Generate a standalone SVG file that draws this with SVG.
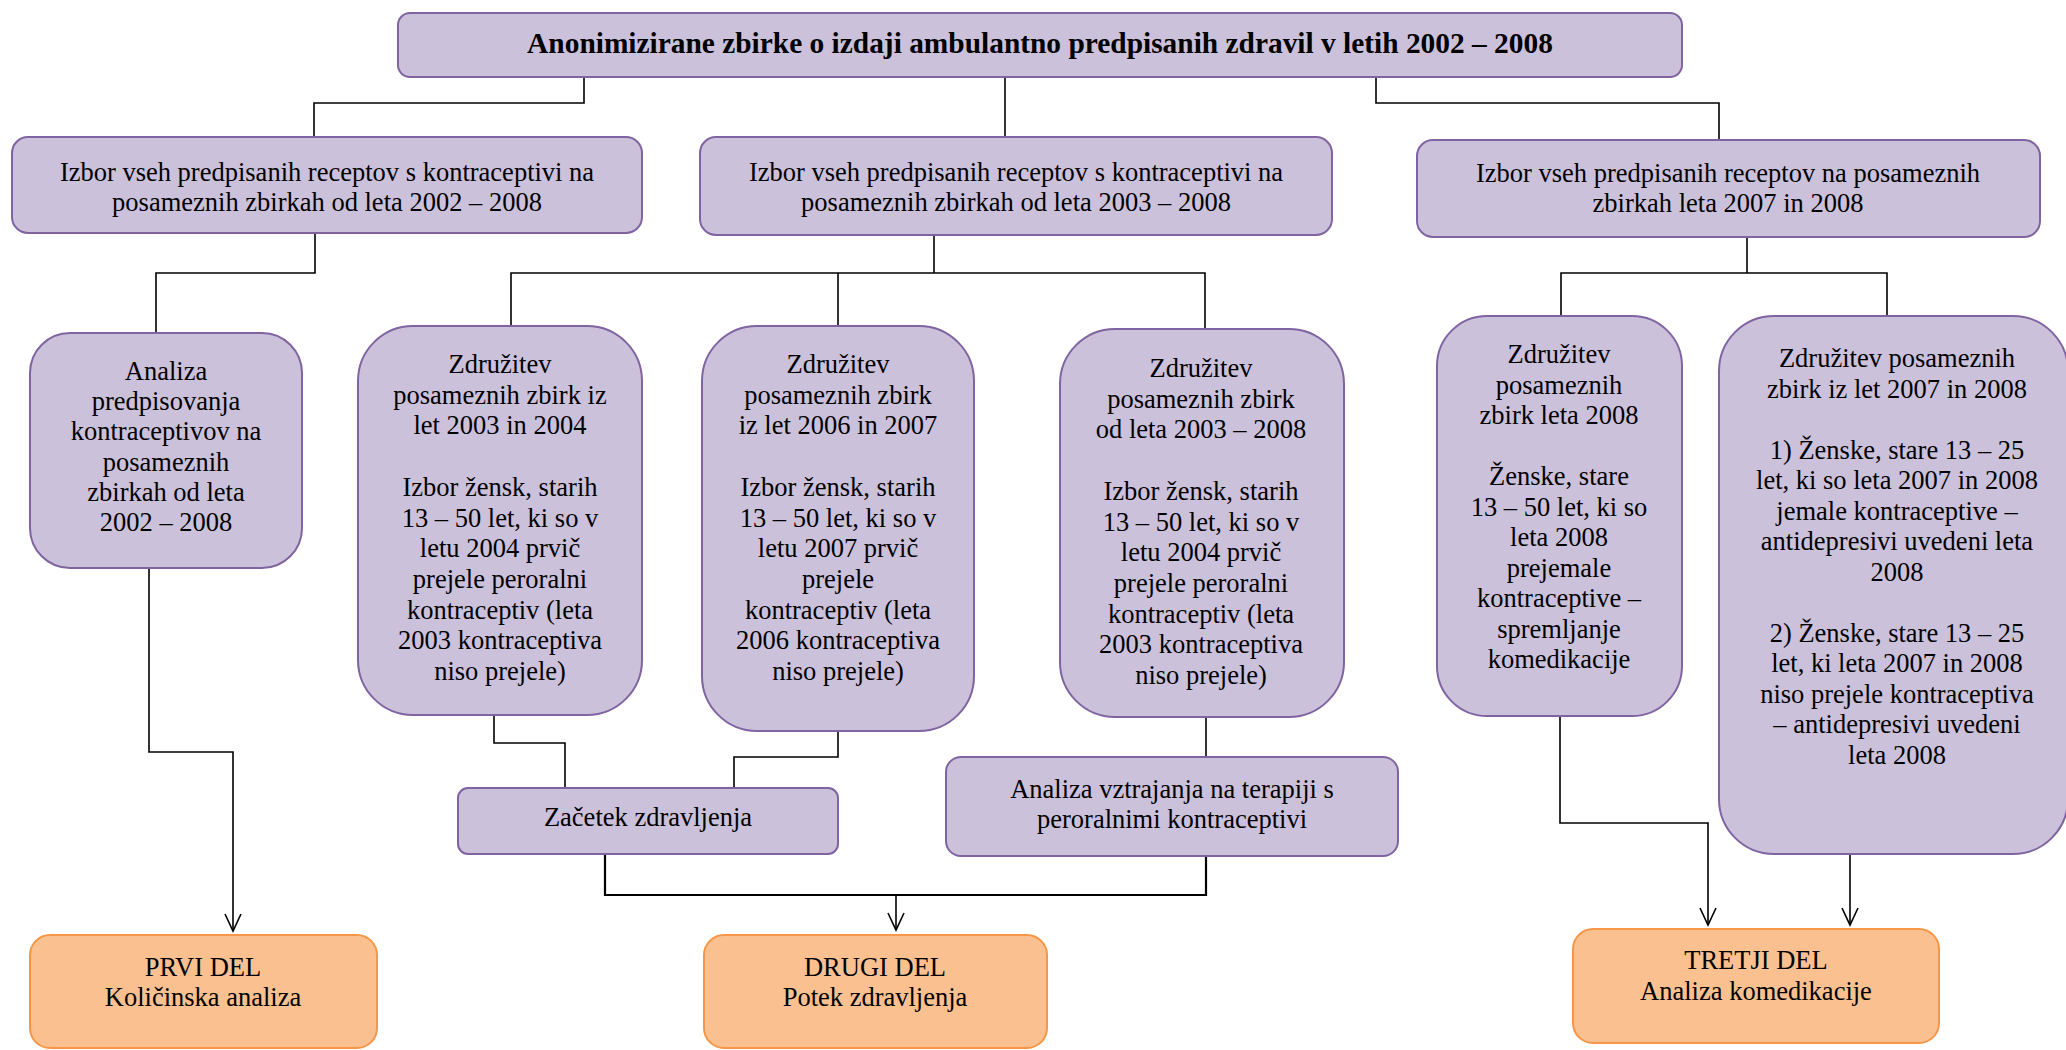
<svg xmlns="http://www.w3.org/2000/svg" width="2066" height="1050" viewBox="0 0 2066 1050">
<style>
.p{fill:#CCC1DA;stroke:#8064A2;stroke-width:2}
.o{fill:#FAC090;stroke:#F79646;stroke-width:2}
.t{font-family:"Liberation Serif","Times New Roman",serif;font-size:26.5px;fill:#000;text-anchor:middle}
.b{font-weight:bold;font-size:29.4px}
.c{fill:none;stroke:#000;stroke-width:1.6}
.th{stroke-width:2.2}
</style>
<defs>
<marker id="ar" markerUnits="userSpaceOnUse" markerWidth="22" markerHeight="22" viewBox="-19 -11 22 22" refX="0" refY="0" orient="auto">
<path d="M-17,-8 L0,0 L-17,8" fill="none" stroke="#000" stroke-width="1.6"/>
</marker>
</defs>
<rect width="2066" height="1050" fill="#fff"/>
<g id="connectors">
<path class="c" d="M584,77 V103 H314 V137"/>
<path class="c" d="M1005,77 V137"/>
<path class="c" d="M1376,77 V103 H1719 V140"/>
<path class="c" d="M315,233 V273 H156 V333"/>
<path class="c" d="M934,235 V273"/>
<path class="c" d="M511,325 V273 H1205 V329"/>
<path class="c" d="M838,273 V325"/>
<path class="c" d="M1747,237 V273"/>
<path class="c" d="M1561,316 V273 H1887 V316"/>
<path class="c" d="M149,568 V752 H233 V931" marker-end="url(#ar)"/>
<path class="c" d="M494,715 V743 H565 V788"/>
<path class="c" d="M838,731 V757 H734 V788"/>
<path class="c" d="M1206,717 V757"/>
<path class="c th" d="M605,854 V895 H1206 V856"/>
<path class="c" d="M896,895 V930" marker-end="url(#ar)"/>
<path class="c" d="M1560,716 V823 H1708 V925" marker-end="url(#ar)"/>
<path class="c" d="M1850,854 V925" marker-end="url(#ar)"/>
</g>
<g id="n_top">
<rect class="p" x="398" y="13" width="1284" height="64" rx="12"/>
<text class="t b" x="1040" y="53">Anonimizirane zbirke o izdaji ambulantno predpisanih zdravil v letih 2002 – 2008</text>
</g>
<g id="n_a">
<rect class="p" x="12" y="137" width="630" height="96" rx="16"/>
<text class="t" x="327" y="181"><tspan x="327">Izbor vseh predpisanih receptov s kontraceptivi na</tspan><tspan x="327" dy="30">posameznih zbirkah od leta 2002 – 2008</tspan></text>
</g>
<g id="n_b">
<rect class="p" x="700" y="137" width="632" height="98" rx="16"/>
<text class="t" x="1016" y="181"><tspan x="1016">Izbor vseh predpisanih receptov s kontraceptivi na</tspan><tspan x="1016" dy="30">posameznih zbirkah od leta 2003 – 2008</tspan></text>
</g>
<g id="n_c">
<rect class="p" x="1417" y="140" width="623" height="97" rx="16"/>
<text class="t" x="1728" y="182"><tspan x="1728">Izbor vseh predpisanih receptov na posameznih</tspan><tspan x="1728" dy="30">zbirkah leta 2007 in 2008</tspan></text>
</g>
<g id="n_d">
<rect class="p" x="30" y="333" width="272" height="235" rx="40"/>
<text class="t" x="166" y="380"><tspan x="166">Analiza</tspan><tspan x="166" dy="30.2">predpisovanja</tspan><tspan x="166" dy="30.2">kontraceptivov na</tspan><tspan x="166" dy="30.2">posameznih</tspan><tspan x="166" dy="30.2">zbirkah od leta</tspan><tspan x="166" dy="30.2">2002 – 2008</tspan></text>
</g>
<g id="n_e">
<rect class="p" x="358" y="326" width="284" height="389" rx="55"/>
<text class="t" x="500" y="373"><tspan x="500">Združitev</tspan><tspan x="500" dy="30.7">posameznih zbirk iz</tspan><tspan x="500" dy="30.7">let 2003 in 2004</tspan><tspan x="500" dy="61.4">Izbor žensk, starih</tspan><tspan x="500" dy="30.7">13 – 50 let, ki so v</tspan><tspan x="500" dy="30.7">letu 2004 prvič</tspan><tspan x="500" dy="30.7">prejele peroralni</tspan><tspan x="500" dy="30.7">kontraceptiv (leta</tspan><tspan x="500" dy="30.7">2003 kontraceptiva</tspan><tspan x="500" dy="30.7">niso prejele)</tspan></text>
</g>
<g id="n_f">
<rect class="p" x="702" y="326" width="272" height="405" rx="55"/>
<text class="t" x="838" y="373"><tspan x="838">Združitev</tspan><tspan x="838" dy="30.7">posameznih zbirk</tspan><tspan x="838" dy="30.7">iz let 2006 in 2007</tspan><tspan x="838" dy="61.4">Izbor žensk, starih</tspan><tspan x="838" dy="30.7">13 – 50 let, ki so v</tspan><tspan x="838" dy="30.7">letu 2007 prvič</tspan><tspan x="838" dy="30.7">prejele</tspan><tspan x="838" dy="30.7">kontraceptiv (leta</tspan><tspan x="838" dy="30.7">2006 kontraceptiva</tspan><tspan x="838" dy="30.7">niso prejele)</tspan></text>
</g>
<g id="n_g">
<rect class="p" x="1060" y="329" width="284" height="388" rx="55"/>
<text class="t" x="1201" y="377"><tspan x="1201">Združitev</tspan><tspan x="1201" dy="30.7">posameznih zbirk</tspan><tspan x="1201" dy="30.7">od leta 2003 – 2008</tspan><tspan x="1201" dy="61.4">Izbor žensk, starih</tspan><tspan x="1201" dy="30.7">13 – 50 let, ki so v</tspan><tspan x="1201" dy="30.7">letu 2004 prvič</tspan><tspan x="1201" dy="30.7">prejele peroralni</tspan><tspan x="1201" dy="30.7">kontraceptiv (leta</tspan><tspan x="1201" dy="30.7">2003 kontraceptiva</tspan><tspan x="1201" dy="30.7">niso prejele)</tspan></text>
</g>
<g id="n_h">
<rect class="p" x="1437" y="316" width="245" height="400" rx="50"/>
<text class="t" x="1559" y="363"><tspan x="1559">Združitev</tspan><tspan x="1559" dy="30.5">posameznih</tspan><tspan x="1559" dy="30.5">zbirk leta 2008</tspan><tspan x="1559" dy="61">Ženske, stare</tspan><tspan x="1559" dy="30.5">13 – 50 let, ki so</tspan><tspan x="1559" dy="30.5">leta 2008</tspan><tspan x="1559" dy="30.5">prejemale</tspan><tspan x="1559" dy="30.5">kontraceptive –</tspan><tspan x="1559" dy="30.5">spremljanje</tspan><tspan x="1559" dy="30.5">komedikacije</tspan></text>
</g>
<g id="n_i">
<rect class="p" x="1719" y="316" width="349" height="538" rx="55"/>
<text class="t" x="1897" y="367"><tspan x="1897">Združitev posameznih</tspan><tspan x="1897" dy="30.5">zbirk iz let 2007 in 2008</tspan><tspan x="1897" dy="61">1) Ženske, stare 13 – 25</tspan><tspan x="1897" dy="30.5">let, ki so leta 2007 in 2008</tspan><tspan x="1897" dy="30.5">jemale kontraceptive –</tspan><tspan x="1897" dy="30.5">antidepresivi uvedeni leta</tspan><tspan x="1897" dy="30.5">2008</tspan><tspan x="1897" dy="61">2) Ženske, stare 13 – 25</tspan><tspan x="1897" dy="30.5">let, ki leta 2007 in 2008</tspan><tspan x="1897" dy="30.5">niso prejele kontraceptiva</tspan><tspan x="1897" dy="30.5">– antidepresivi uvedeni</tspan><tspan x="1897" dy="30.5">leta 2008</tspan></text>
</g>
<g id="n_j">
<rect class="p" x="458" y="788" width="380" height="66" rx="10"/>
<text class="t" x="648" y="826">Začetek zdravljenja</text>
</g>
<g id="n_k">
<rect class="p" x="946" y="757" width="452" height="99" rx="15"/>
<text class="t" x="1172" y="798"><tspan x="1172">Analiza vztrajanja na terapiji s</tspan><tspan x="1172" dy="30">peroralnimi kontraceptivi</tspan></text>
</g>
<g id="n_l">
<rect class="o" x="30" y="935" width="347" height="113" rx="20"/>
<text class="t" x="203" y="976"><tspan x="203">PRVI DEL</tspan><tspan x="203" dy="30">Količinska analiza</tspan></text>
</g>
<g id="n_m">
<rect class="o" x="704" y="935" width="343" height="113" rx="20"/>
<text class="t" x="875" y="976"><tspan x="875">DRUGI DEL</tspan><tspan x="875" dy="30">Potek zdravljenja</tspan></text>
</g>
<g id="n_n">
<rect class="o" x="1573" y="929" width="366" height="114" rx="20"/>
<text class="t" x="1756" y="969"><tspan x="1756">TRETJI DEL</tspan><tspan x="1756" dy="31">Analiza komedikacije</tspan></text>
</g>
</svg>
